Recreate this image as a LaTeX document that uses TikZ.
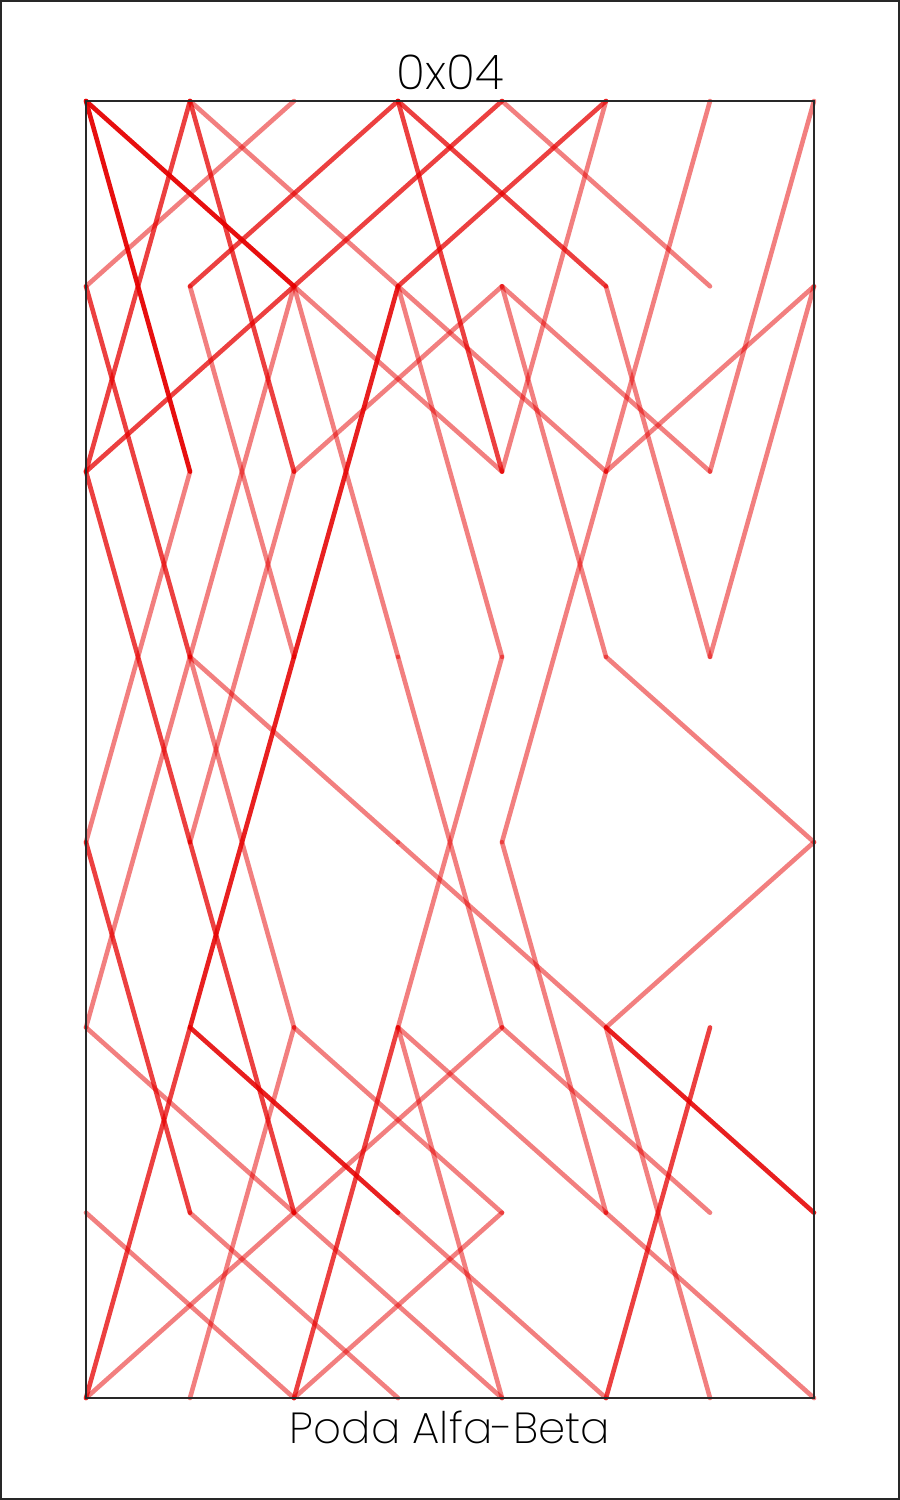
\documentclass[tikz,border=0pt]{standalone}
\usepackage{fontspec}
\newfontfamily\labelfont{Poppins}[UprightFont=* ExtraLight]
\definecolor{knight}{RGB}{229,0,0}
\definecolor{frame}{RGB}{40,40,40}
\begin{document}
\begin{tikzpicture}[x=1pt,y=-1pt,
  mv/.style={draw=knight,line width=4.6pt,line cap=round,line join=round},
  lone/.style={mv,opacity=0.5},
  ltwo/.style={mv,opacity=0.75},
  lthree/.style={mv,opacity=0.875},
  lfour/.style={mv,opacity=0.94},
  board/.style={draw=frame,line width=1.4pt},
  outer/.style={draw=frame,line width=1.5pt},
  caption/.style={anchor=base,inner sep=0pt,text=black}]
\useasboundingbox (0,0) rectangle (900,1500);
\draw[outer] (1,1) rectangle (899,1499);
\foreach \c in {0,...,7}{
  \foreach \r in {0,...,7}{
    \coordinate (p\c\r) at ({86+104*\c},{101+185.2857*\r});
  }
}
% single passes
\foreach \a/\b in {10/31,20/01,40/61,50/42,60/52,70/62,11/23,21/13,21/33,21/42,
  31/43,31/52,41/22,41/62,41/53,51/63,71/52,71/63,12/04,22/14,52/44,13/05,
  13/25,13/34,33/45,43/35,53/74,34/55,44/56,74/55,05/26,25/17,25/46,35/47,
  35/56,45/26,45/66,55/67,06/27,16/37,26/47,26/07,36/57,46/27,56/77}{
  \draw[lone] (p\a) -- (p\b);
}
% double passes
\foreach \a/\b in {10/02,10/22,30/11,30/42,30/51,40/21,50/31,01/13,21/02,02/14,
  04/16,14/26,15/07,35/27,65/57}{
  \draw[ltwo] (p\a) -- (p\b);
}
% triple passes
\foreach \a/\b in {31/23,23/15,15/36,55/76}{
  \draw[lthree] (p\a) -- (p\b);
}
% quadruple passes
\foreach \a/\b in {00/12,00/21}{
  \draw[lfour] (p\a) -- (p\b);
}
\draw[board] (p00) rectangle (p77);
\node[caption,font=\labelfont\fontsize{48}{52}\selectfont] (title) at (450,89) {0x04};
\node[caption,font=\labelfont\fontsize{43.5}{48}\selectfont] (subtitle) at (450,1443) {Poda Alfa-Beta};
\end{tikzpicture}
\end{document}
